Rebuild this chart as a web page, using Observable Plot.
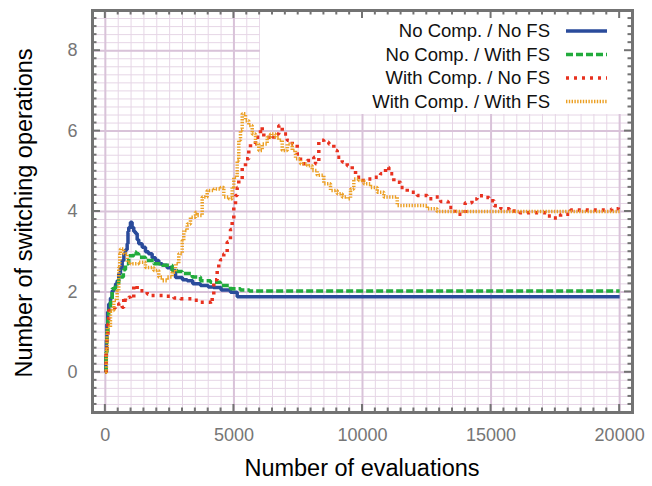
<!DOCTYPE html>
<html>
<head>
<meta charset="utf-8">
<script src="https://cdn.jsdelivr.net/npm/d3@7"></script>
<script src="https://cdn.jsdelivr.net/npm/@observablehq/plot@0.6"></script>
<style>
  body { margin: 0; background: #fff; }
  #chart { width: 652px; height: 486px; }
</style>
</head>
<body>
<div id="chart"></div>
<script>
// ---- data ----
const xLabel = "Number of evaluations";
const yLabel = "Number of switching operations";
const evalTicks = [0, 5000, 10000, 15000, 20000];
const switchTicks = [0, 2, 4, 6, 8];
const seriesNames = ["No Comp. / No FS", "No Comp. / With FS", "With Comp. / No FS", "With Comp. / With FS"];

// [evaluations, switching operations]
const noCompNoFS = [[0,0],[20,0.4],[40,0.8],[60,1.2],[90,1.5],[130,1.7],[200,1.85],[265,2.03],[330,2.1],[400,2.2],[460,2.28],[520,2.45],[587,2.6],[654,2.78],[720,2.95],[782,3.05],[848,3.2],[880,3.5],[910,3.6],[976,3.73],[1040,3.6],[1105,3.5],[1171,3.45],[1237,3.3],[1299,3.2],[1432,3.11],[1560,3.0],[1677,2.95],[1820,2.85],[1949,2.78],[2080,2.7],[2210,2.66],[2400,2.6],[2599,2.53],[2730,2.36],[3000,2.3],[3182,2.28],[3400,2.2],[3699,2.16],[4000,2.12],[4200,2.11],[4500,2.05],[4866,1.99],[5127,1.88],[20000,1.88]];
const noCompWithFS = [[0,0],[30,0.5],[60,1.0],[100,1.4],[130,1.6],[200,1.75],[265,2.08],[393,2.21],[520,2.3],[587,2.37],[700,2.55],[782,2.7],[910,2.9],[1105,2.99],[1200,2.95],[1299,2.86],[1560,2.78],[1883,2.7],[2210,2.66],[2599,2.53],[2800,2.51],[2988,2.46],[3377,2.37],[3699,2.28],[4088,2.24],[4477,2.16],[4866,2.08],[5255,2.05],[5600,2.02],[20000,2.02]];
const withCompNoFS = [[0,0],[30,0.5],[60,0.9],[100,1.2],[132,1.54],[300,1.6],[393,1.62],[521,1.71],[654,1.62],[716,1.87],[782,1.79],[910,1.87],[976,1.83],[1105,2.16],[1237,2.03],[1432,2.03],[1626,1.95],[1754,1.91],[2015,1.91],[2338,1.89],[2661,1.85],[2921,1.83],[3439,1.79],[3699,1.74],[4088,1.7],[4155,1.9],[4217,2.3],[4349,2.55],[4411,2.7],[4477,2.8],[4606,2.95],[4738,3.24],[4866,3.55],[4932,3.8],[4995,4.11],[5061,4.4],[5127,4.6],[5189,4.77],[5322,5.1],[5450,5.31],[5578,5.52],[5644,5.68],[5839,5.85],[6033,6.1],[6100,5.95],[6162,5.85],[6294,5.85],[6422,5.8],[6551,5.93],[6745,6.14],[6878,5.93],[7072,5.77],[7267,5.68],[7461,5.43],[7589,5.19],[7850,5.27],[8107,5.35],[8173,5.19],[8301,5.77],[8496,5.72],[8690,5.68],[8885,5.52],[9017,5.35],[9212,5.23],[9406,5.14],[9600,5.02],[9729,4.85],[9923,4.77],[10184,4.81],[10441,4.85],[10701,4.94],[10896,5.1],[11024,4.94],[11219,4.73],[11479,4.6],[11740,4.48],[12129,4.4],[12518,4.32],[12775,4.36],[13035,4.25],[13331,4.1],[13596,3.93],[13794,3.93],[13992,4.22],[14257,4.31],[14455,4.39],[14720,4.35],[14918,4.27],[15117,4.14],[15381,4.07],[15712,4.01],[16108,3.97],[16770,3.97],[17170,3.89],[17431,3.84],[17703,3.93],[18092,4.04],[19415,4.04],[19687,4.07],[19948,4.14],[20000,4.14]];
const withCompWithFS = [[0,0],[40,0.54],[70,1.12],[198,1.54],[327,1.79],[459,2.03],[521,2.61],[560,2.95],[587,3.07],[716,2.95],[848,2.74],[976,2.7],[1171,2.7],[1299,2.74],[1560,2.61],[1883,2.53],[2077,2.37],[2210,2.28],[2404,2.37],[2599,2.49],[2727,2.7],[2855,2.95],[2988,3.28],[3050,3.53],[3182,3.69],[3310,3.86],[3505,3.98],[3571,3.9],[3766,4.36],[3960,4.52],[4217,4.56],[4477,4.6],[4606,4.36],[4800,4.32],[4932,4.6],[4995,4.85],[5127,5.27],[5189,5.77],[5255,6.02],[5322,6.43],[5450,6.26],[5578,6.14],[5711,5.93],[5839,5.68],[5967,5.52],[6100,5.68],[6294,5.85],[6422,5.93],[6617,5.85],[6745,5.77],[6878,5.52],[7072,5.68],[7267,5.52],[7395,5.31],[7589,5.19],[7850,5.14],[8044,5.02],[8239,4.9],[8496,4.69],[8756,4.52],[9017,4.44],[9212,4.36],[9406,4.32],[9534,4.56],[9662,4.81],[9857,4.77],[10052,4.69],[10312,4.6],[10573,4.48],[10830,4.36],[11090,4.36],[11351,4.15],[11997,4.15],[12518,4.07],[12802,4.07],[12900,4.0],[20000,4.0]];

// ---- styles ----
const seriesStyles = [
  {stroke: "#2a4b9b", dash: null},
  {stroke: "#22ab3c", dash: "7,3"},
  {stroke: "#e8311f", dash: "3,5"},
  {stroke: "#eca024", dash: "1.4,1.4"}
];
const seriesData = [noCompNoFS, noCompWithFS, withCompNoFS, withCompWithFS];
const rows = seriesData.map((s, i) => s.map(([x, y]) => ({series: seriesNames[i], x, y})));

const minorX = d3.range(0, 41).map(i => i * 500);
const majorX = minorX.filter(v => v % 5000 === 0);
const minorY = d3.range(-4, 45).map(i => i / 5);
const majorY = minorY.filter(v => Math.abs(v / 2 - Math.round(v / 2)) < 1e-9);

const frameColor = "#737373";
const fontFamily = "'Liberation Sans', Arial, Helvetica, sans-serif";

function legendMark(index, scales, values, dims) {
  const g = d3.create("svg:g");
  const right = dims.width - dims.marginRight;
  g.append("rect").attr("x", 260).attr("y", dims.marginTop).attr("width", right - 260).attr("height", 104).attr("fill", "white");
  seriesNames.forEach((name, i) => {
    const yy = 31 + i * 23.5;
    g.append("text").attr("x", 550).attr("y", yy).attr("dy", "0.35em")
      .attr("text-anchor", "end").attr("font-size", 18.5).attr("font-family", fontFamily)
      .attr("fill", "#111").text(name);
    const ln = g.append("line").attr("x1", 566).attr("x2", 607).attr("y1", yy).attr("y2", yy)
      .attr("stroke", seriesStyles[i].stroke).attr("stroke-width", 3.5);
    if (seriesStyles[i].dash) ln.attr("stroke-dasharray", seriesStyles[i].dash);
  });
  return g.node();
}

function frameTicks(index, scales, values, dims) {
  const g = d3.create("svg:g").attr("stroke", frameColor).attr("stroke-width", 2);
  const left = dims.marginLeft, right = dims.width - dims.marginRight;
  const top = dims.marginTop, bottom = dims.height - dims.marginBottom;
  minorX.forEach(v => {
    const px = scales.x(v), len = majorX.includes(v) ? 8 : 4.5;
    g.append("line").attr("x1", px).attr("x2", px).attr("y1", bottom).attr("y2", bottom - len);
    g.append("line").attr("x1", px).attr("x2", px).attr("y1", top).attr("y2", top + len);
  });
  minorY.forEach(v => {
    const py = scales.y(v), len = majorY.includes(v) ? 8 : 4.5;
    g.append("line").attr("y1", py).attr("y2", py).attr("x1", left).attr("x2", left + len);
    g.append("line").attr("y1", py).attr("y2", py).attr("x1", right).attr("x2", right - len);
  });
  return g.node();
}

function titles(index, scales, values, dims) {
  const g = d3.create("svg:g").attr("font-family", fontFamily).attr("font-size", 23.5).attr("fill", "#000");
  const cx = (dims.marginLeft + dims.width - dims.marginRight) / 2;
  const cy = (dims.marginTop + dims.height - dims.marginBottom) / 2;
  g.append("text").attr("x", cx).attr("y", 476).attr("text-anchor", "middle").text(xLabel);
  g.append("text").attr("transform", `translate(32,${cy + 2}) rotate(-90)`).attr("text-anchor", "middle").text(yLabel);
  return g.node();
}

const chart = Plot.plot({
  width: 652,
  height: 486,
  marginLeft: 92,
  marginRight: 20,
  marginTop: 10,
  marginBottom: 74,
  x: {domain: [-500, 20500]},
  y: {domain: [-1, 9]},
  style: {fontFamily, background: "white", overflow: "visible"},
  marks: [
    Plot.ruleX(minorX, {stroke: "#e6d6e6", strokeWidth: 1}),
    Plot.ruleY(minorY, {stroke: "#e6d6e6", strokeWidth: 1}),
    Plot.ruleX(majorX, {stroke: "#d9c3d9", strokeWidth: 2}),
    Plot.ruleY(majorY, {stroke: "#d9c3d9", strokeWidth: 2}),
    ...rows.map((r, i) => Plot.line(r, {
      x: "x", y: "y", curve: "step-after",
      stroke: seriesStyles[i].stroke, strokeWidth: 3.5,
      strokeDasharray: seriesStyles[i].dash, strokeLinejoin: "miter", strokeLinecap: "butt"
    })),
    legendMark,
    Plot.frame({stroke: frameColor, strokeWidth: 3}),
    frameTicks,
    Plot.axisX({ticks: evalTicks, tickSize: 0, tickPadding: 16, tickFormat: d => String(d), fontSize: 18, fill: "#767676", label: null}),
    Plot.axisY({ticks: switchTicks, tickSize: 0, tickPadding: 15, tickFormat: d => String(d), fontSize: 18, fill: "#767676", label: null}),
    titles
  ]
});
document.getElementById("chart").appendChild(chart);
</script>
</body>
</html>
